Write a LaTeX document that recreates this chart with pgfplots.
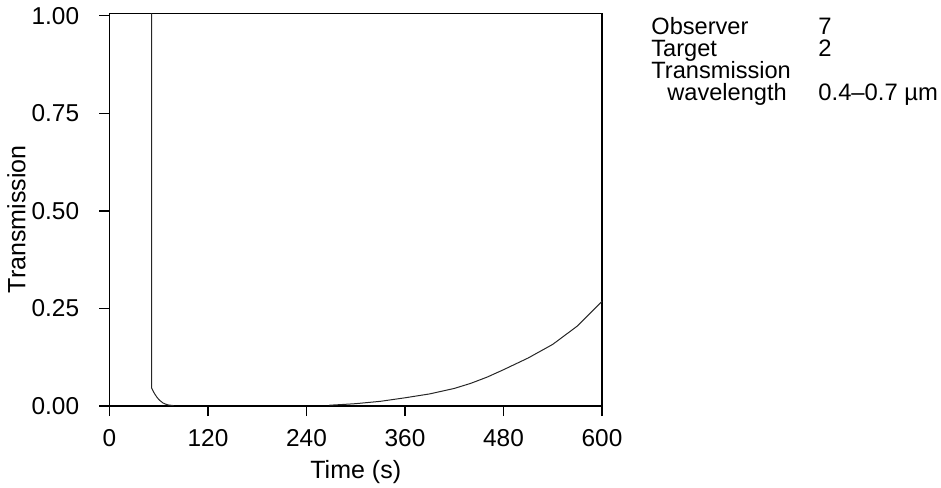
\documentclass[border=0pt]{standalone}
\usepackage{pgfplots}
\pgfplotsset{compat=1.18}
\usepackage{fontspec}
\setmainfont{Liberation Sans}
\newcommand\fs{\fontsize{12.5}{14}\selectfont}
\newcommand\fn{\fontsize{12.2}{15}\selectfont}
\newcommand\fr{\fontsize{11.8}{13}\selectfont}
\newcommand\fv{\fontsize{11.9}{13}\selectfont}
\begin{document}
\begin{tikzpicture}
\begin{axis}[
  at={(0,0)}, anchor=south west,
  scale only axis, width=246.25pt, height=196.25pt,
  xmin=0, xmax=600, ymin=0, ymax=1.006,
  xtick={0,120,240,360,480,600},
  ytick={0,0.25,0.5,0.75,1},
  xtick pos=left, ytick pos=left,
  tick align=outside, major tick length=5pt,
  axis line style={line width=0.6pt},
  every tick/.style={black, line width=0.6pt},
  /pgf/number format/assume math mode=true,
  ticklabel style={font=\fn, inner sep=0pt},
  yticklabel style={/pgf/number format/fixed, /pgf/number format/fixed zerofill, /pgf/number format/precision=2, anchor=east, xshift=-10pt},
  xticklabel style={anchor=north, yshift=-6.5pt},
  xlabel={Time (s)}, ylabel={Transmission},
  xlabel style={font=\fs, at={(rel axis cs:0.5,0)}, anchor=base, inner sep=0pt, yshift=-36pt},
  ylabel style={font=\fs, at={(rel axis cs:0,0.476)}, anchor=center, inner sep=0pt, yshift=46.5pt},
]
\addplot[line width=0.5pt, black!85] coordinates {
 (51.2,1.006) (51.2,0.047) (52.5,0.041) (54,0.035) (56,0.028) (58,0.022) (60,0.017)
 (62,0.013) (65,0.008) (68,0.005) (72,0.0025) (78,0.001)
};
\addplot[line width=0.5pt, black!85] coordinates {
 (268,0.002) (285,0.004) (300,0.006) (330,0.012) (360,0.021) (390,0.031)
 (420,0.045) (440,0.058) (460,0.074) (480,0.093) (510,0.123) (540,0.158)
 (570,0.205) (600,0.268)
};
\end{axis}
\node[font=\fr, anchor=base west, inner sep=0pt] at (270.75pt,185.5pt) {Observer};
\node[font=\fr, anchor=base west, inner sep=0pt] at (270.75pt,174.5pt) {Target};
\node[font=\fr, anchor=base west, inner sep=0pt] at (270.75pt,163.5pt) {Transmission};
\node[font=\fr, anchor=base west, inner sep=0pt] at (278.75pt,152.5pt) {wavelength};
\node[font=\fv, anchor=base west, inner sep=0pt] at (354.25pt,185.5pt) {7};
\node[font=\fv, anchor=base west, inner sep=0pt] at (354.25pt,174.5pt) {2};
\node[font=\fv, anchor=base west, inner sep=0pt] at (354.25pt,152.5pt) {0.4–0.7 µm};
\pgfresetboundingbox
\path[use as bounding box] (-54.75pt,-40.5pt) rectangle (415.75pt,203pt);
\end{tikzpicture}
\end{document}
